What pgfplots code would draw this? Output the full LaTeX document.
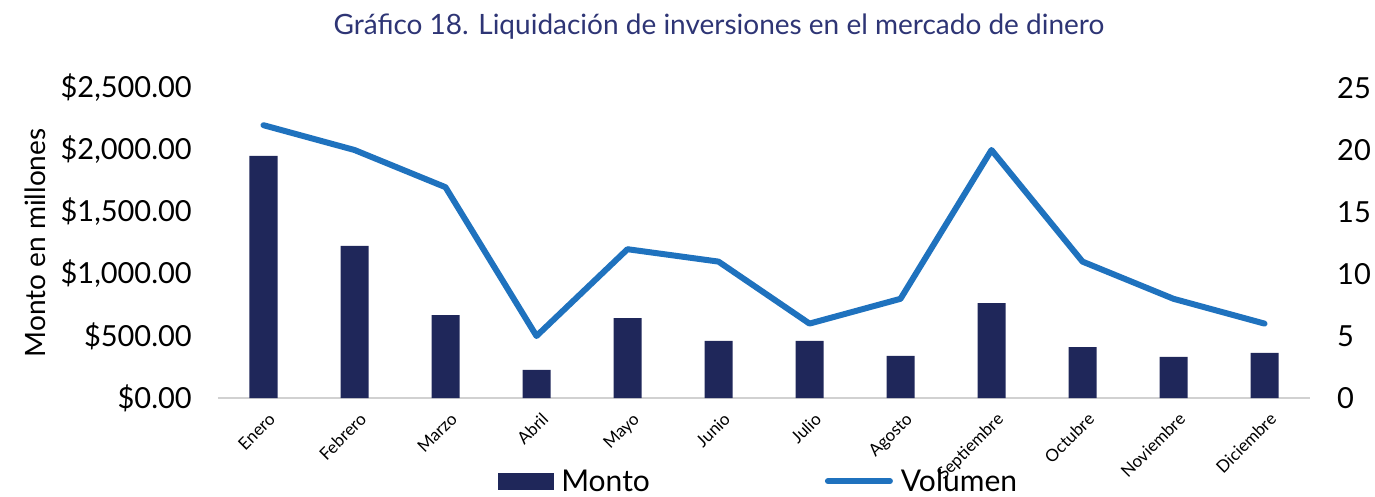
\documentclass[border=0pt]{standalone}
\usepackage{pgfplots}
\pgfplotsset{compat=1.18}
\usepackage{fontspec}
\setmainfont{Lato}
\definecolor{navy}{HTML}{1F275A}
\definecolor{lblue}{HTML}{1F72BE}
\definecolor{ttl}{HTML}{2E3575}
\begin{document}
\begin{tikzpicture}[x=1pt,y=1pt]
\path[use as bounding box] (0,0) rectangle (1375,496);
\node[text=ttl, font=\fontsize{28}{31}\selectfont] at (719,469) {Gráfico 18. Liquidación de inversiones en el mercado de dinero};
\begin{axis}[
  at={(218pt,98pt)}, anchor=south west,
  scale only axis, width=1092pt, height=310pt,
  xmin=-0.5, xmax=11.5, ymin=0, ymax=2500,
  axis x line*=bottom, axis y line*=left,
  y axis line style={draw=none},
  x axis line style={draw=black!18, line width=1.5pt},
  major tick length=0pt,
  xtick={0,...,11},
  xticklabels={Enero,Febrero,Marzo,Abril,Mayo,Junio,Julio,Agosto,Septiembre,Octubre,Noviembre,Diciembre},
  xticklabel style={xshift=4pt, yshift=-12pt, rotate=45, anchor=north east, font=\fontsize{17}{19}\selectfont, inner sep=1pt},
  ytick={0,500,1000,1500,2000,2500},
  yticklabels={\$0.00,\$500.00,\$1{,}000.00,\$1{,}500.00,\$2{,}000.00,\$2{,}500.00},
  yticklabel style={font=\fontsize{29}{32}\selectfont, inner sep=0pt, xshift=-26pt},
  ylabel={Monto en millones},
  ylabel style={font=\fontsize{28}{31}\selectfont, at={(axis description cs:-0.1676,0.5)}, anchor=center},
]
\addplot[ybar, bar width=28pt, fill=navy, draw=none] coordinates {
(0,1952) (1,1226) (2,669) (3,226) (4,645) (5,460) (6,460) (7,339) (8,766) (9,411) (10,331) (11,363)};
\end{axis}
\begin{axis}[
  at={(218pt,98pt)}, anchor=south west,
  scale only axis, width=1092pt, height=310pt,
  xmin=-0.5, xmax=11.5, ymin=0, ymax=25,
  axis x line=none, axis y line*=right,
  y axis line style={draw=none},
  major tick length=0pt,
  ytick={0,5,10,15,20,25},
  yticklabels={0,5,10,15,20,25},
  yticklabel style={font=\fontsize{29}{32}\selectfont, inner sep=0pt, xshift=27pt, anchor=west},
  legend columns=2,
  legend style={at={(rel axis cs:0.4977,-0.268)}, anchor=center, draw=none, fill=none,
    font=\fontsize{30}{33}\selectfont, /tikz/every even column/.append style={column sep=167pt},
    nodes={inner xsep=8pt}},
]
\addlegendimage{legend image code/.code={\fill[navy] (0pt,-8pt) rectangle (55pt,8pt);}}
\addlegendentry{Monto}
\addplot[lblue, line width=6pt, line join=round, line cap=round,
  legend image code/.code={\draw[lblue, line width=6pt, line cap=round] (0pt,0pt) -- (62pt,0pt);}] coordinates {
(0,22) (1,20) (2,17) (3,5) (4,12) (5,11) (6,6) (7,8) (8,20) (9,11) (10,8) (11,6)};
\addlegendentry{Volumen}
\end{axis}
\end{tikzpicture}
\end{document}
